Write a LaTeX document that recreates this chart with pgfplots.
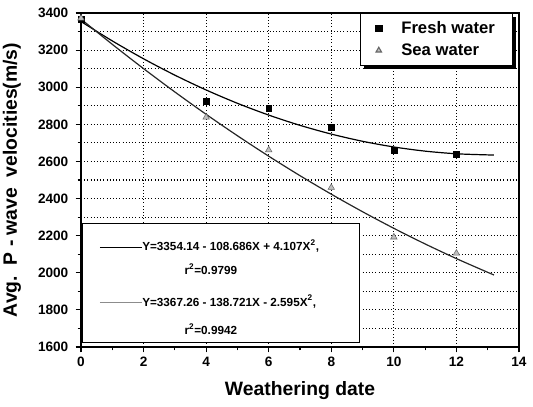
\documentclass[border=0pt]{standalone}
\usepackage{pgfplots}
\pgfplotsset{compat=1.18}
\usepackage{fontspec}
\setmainfont{Liberation Sans}
\usetikzlibrary{shadows}
\begin{document}
\begin{tikzpicture}
\begin{axis}[
  name=ax,
  scale only axis,
  width=328.5pt, height=250.5pt,
  xmin=0, xmax=14, ymin=1600, ymax=3400,
  xtick={0,2,...,14}, minor x tick num=1,
  ytick={1600,1800,...,3400}, minor y tick num=1,
  tick align=outside,
  major tick length=4pt, minor tick length=2.5pt,
  xtick pos=left, ytick pos=left,
  every tick/.style={black, thick},
  axis line style={line width=1.3pt},
  xmajorgrids, ymajorgrids, yminorgrids,
  major grid style={black, dotted, line width=0.8pt},
  minor grid style={black, dotted, line width=0.8pt},
  /pgf/number format/assume math mode=true,
  /pgf/number format/1000 sep={},
  ticklabel style={font=\bfseries\fontsize{10.2}{12}\selectfont},
  yticklabel style={xshift=-2pt},
  xlabel={Weathering date},
  ylabel={Avg.\ \ P - wave\ \ velocities(m/s)},
  label style={font=\bfseries\fontsize{14.5}{17}\selectfont},
  xlabel style={yshift=-4pt},
  ylabel style={yshift=6pt},
  legend style={font=\bfseries\fontsize{12.5}{15}\selectfont,
    at={(axis cs:13.8,3400)}, anchor=north east,
    draw=black, line width=0.8pt, fill=white,
    drop shadow={shadow xshift=2.5pt, shadow yshift=-2.5pt, opacity=1, fill=black},
    inner xsep=11pt, inner ysep=4pt, row sep=2pt},
  legend cell align=left,
  legend image post style={mark size=2.4pt},
]
\addplot[only marks, mark=square*, mark size=2.2pt, black] coordinates {
 (0,3365) (4,2922) (6,2887) (8,2784) (10,2662) (12,2640)};
\addlegendentry{\quad Fresh water}
\addplot[only marks, mark=triangle*, mark size=2.8pt, draw=black!60, fill=black!25] coordinates {
 (0,3372) (4,2838) (6,2662) (8,2459) (10,2192) (12,2105)};
\addlegendentry{\quad Sea water}
\addplot[black, line width=0.9pt, smooth, forget plot] coordinates {
 (0,3354.14) (1,3249.56) (2,3153.20) (3,3065.05) (4,2985.11) (5,2913.39)
 (6,2849.88) (7,2794.58) (8,2747.50) (9,2708.63) (10,2677.98) (11,2655.54)
 (12,2641.32) (13,2635.31) (13.2,2635.09)};
\addplot[black!85, line width=0.9pt, smooth, forget plot] coordinates {
 (0,3367.26) (1,3231.13) (2,3100.20) (3,2974.45) (4,2853.90) (5,2738.53)
 (6,2628.35) (7,2523.37) (8,2423.57) (9,2328.97) (10,2239.55) (11,2155.32)
 (12,2076.29) (13,2002.44) (13.2,1988.30)};
\draw[black, line width=0.8pt, fill=white] (axis cs:0.06,1622) rectangle (axis cs:8.9,2265);
\draw[black, line width=0.7pt] (axis cs:0.6,2135) -- (axis cs:1.95,2135);
\draw[black!45, line width=0.7pt] (axis cs:0.6,1838) -- (axis cs:1.95,1838);
\begin{scope}[every node/.style={font=\bfseries\fontsize{8.8}{10}\selectfont, inner sep=0pt}]
\node[anchor=west] at (axis cs:1.95,2142) {Y=3354.14 - 108.686X + 4.107X\textsuperscript{2},};
\node at (axis cs:4.15,2020) {r\textsuperscript{2}=0.9799};
\node[anchor=west] at (axis cs:1.95,1845) {Y=3367.26 - 138.721X - 2.595X\textsuperscript{2},};
\node at (axis cs:4.15,1697) {r\textsuperscript{2}=0.9942};
\end{scope}
\end{axis}
\pgfresetboundingbox
\useasboundingbox ([xshift=-60.75pt,yshift=-45pt]ax.south west) rectangle ([xshift=10.5pt,yshift=9.75pt]ax.north east);
\end{tikzpicture}
\end{document}
